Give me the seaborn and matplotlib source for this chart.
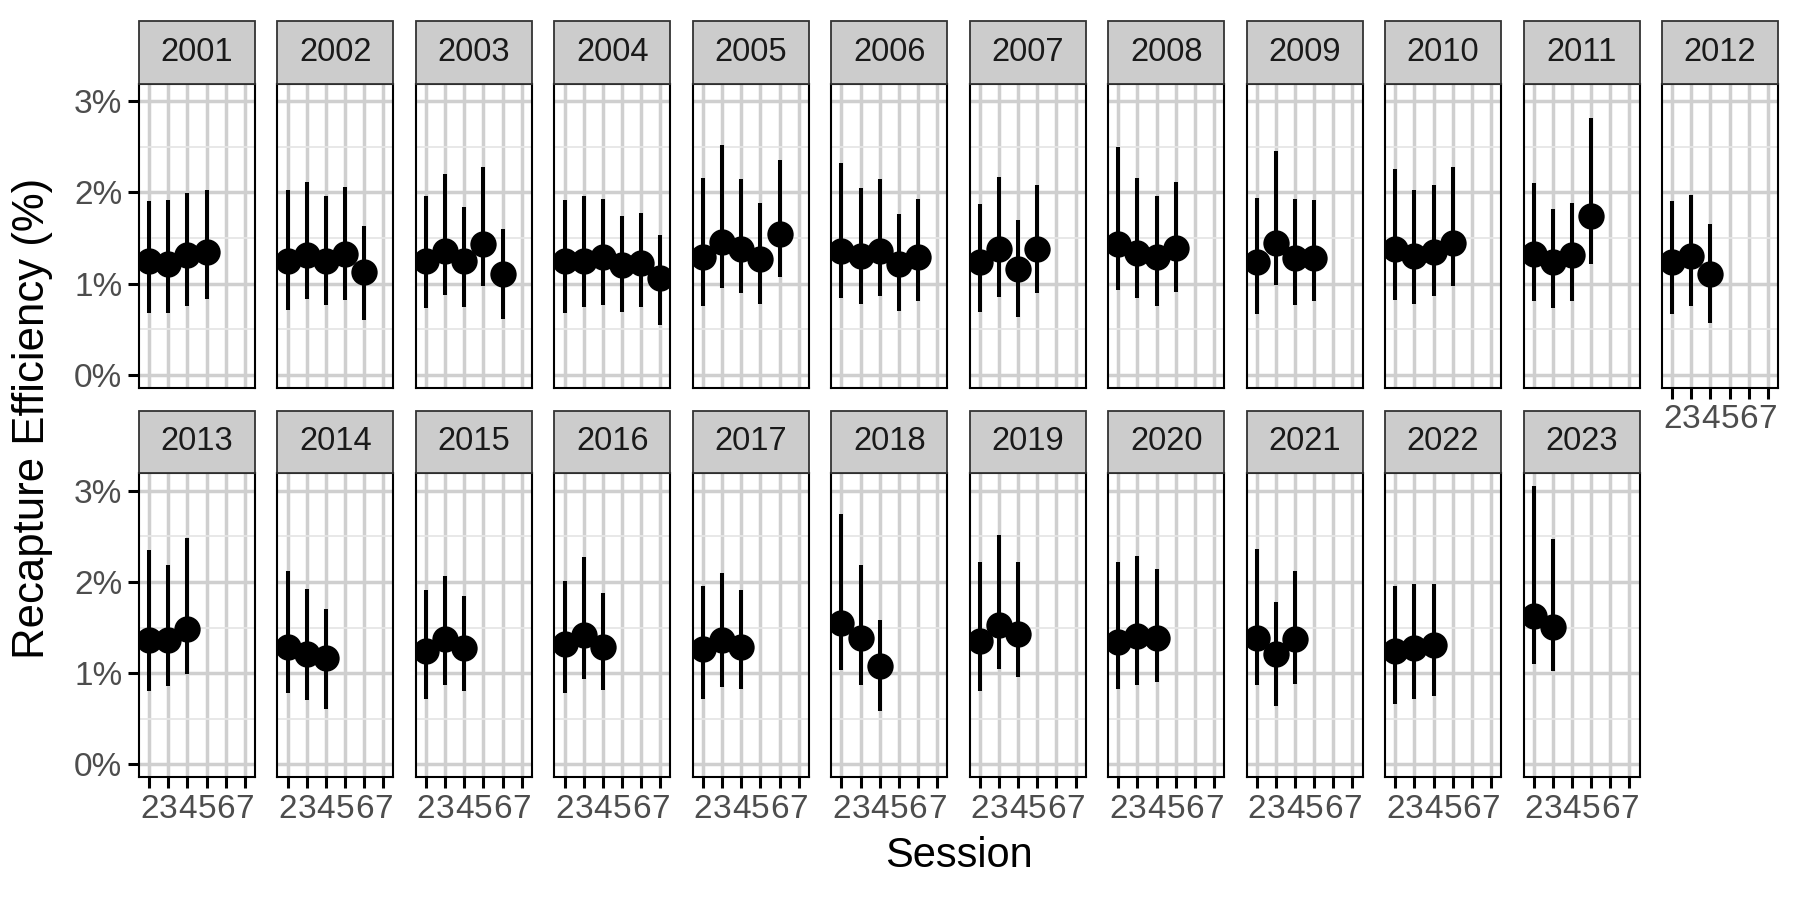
import matplotlib
matplotlib.use("Agg")
import matplotlib.pyplot as plt
from matplotlib.patches import Rectangle
from matplotlib.ticker import FixedLocator, FuncFormatter
import seaborn as sns
import pandas as pd

# recapture efficiency (%) per year, sessions start at 2
years = list(range(2001, 2024))
estimate = [
    [1.25, 1.22, 1.31, 1.35],
    [1.25, 1.31, 1.25, 1.33, 1.13],
    [1.25, 1.36, 1.25, 1.43, 1.11],
    [1.25, 1.25, 1.29, 1.20, 1.23, 1.06],
    [1.29, 1.46, 1.38, 1.27, 1.54],
    [1.36, 1.30, 1.36, 1.21, 1.29],
    [1.24, 1.38, 1.16, 1.38],
    [1.43, 1.34, 1.29, 1.39],
    [1.24, 1.45, 1.28, 1.28],
    [1.38, 1.30, 1.35, 1.45],
    [1.33, 1.24, 1.31, 1.74],
    [1.24, 1.30, 1.11],
    [1.36, 1.36, 1.48],
    [1.29, 1.21, 1.16],
    [1.24, 1.37, 1.27],
    [1.32, 1.42, 1.29],
    [1.26, 1.36, 1.29],
    [1.55, 1.38, 1.08],
    [1.35, 1.53, 1.43],
    [1.34, 1.41, 1.38],
    [1.39, 1.21, 1.37],
    [1.24, 1.28, 1.31],
    [1.63, 1.51],
]
lower = [
    [0.68, 0.68, 0.76, 0.83],
    [0.71, 0.83, 0.77, 0.82, 0.60],
    [0.73, 0.87, 0.74, 0.97, 0.61],
    [0.68, 0.74, 0.77, 0.69, 0.74, 0.55],
    [0.76, 0.95, 0.90, 0.78, 1.07],
    [0.84, 0.78, 0.86, 0.70, 0.81],
    [0.69, 0.85, 0.63, 0.90],
    [0.93, 0.84, 0.76, 0.91],
    [0.67, 0.98, 0.77, 0.81],
    [0.82, 0.78, 0.86, 0.97],
    [0.81, 0.73, 0.81, 1.21],
    [0.67, 0.76, 0.57],
    [0.80, 0.86, 0.99],
    [0.78, 0.70, 0.61],
    [0.72, 0.87, 0.80],
    [0.78, 0.93, 0.81],
    [0.72, 0.85, 0.83],
    [1.03, 0.87, 0.58],
    [0.80, 1.04, 0.96],
    [0.82, 0.87, 0.90],
    [0.87, 0.64, 0.88],
    [0.66, 0.72, 0.75],
    [1.10, 1.02],
]
upper = [
    [1.91, 1.92, 1.99, 2.03],
    [2.03, 2.11, 1.96, 2.06, 1.63],
    [1.96, 2.20, 1.84, 2.28, 1.60],
    [1.92, 1.96, 1.93, 1.74, 1.77, 1.53],
    [2.16, 2.52, 2.15, 1.89, 2.36],
    [2.32, 2.05, 2.15, 1.76, 1.93],
    [1.87, 2.17, 1.70, 2.08],
    [2.50, 2.16, 1.96, 2.12],
    [1.94, 2.46, 1.93, 1.92],
    [2.26, 2.03, 2.08, 2.28],
    [2.10, 1.82, 1.89, 2.82],
    [1.91, 1.97, 1.65],
    [2.35, 2.19, 2.48],
    [2.12, 1.92, 1.70],
    [1.91, 2.07, 1.85],
    [2.01, 2.27, 1.88],
    [1.95, 2.10, 1.91],
    [2.74, 2.19, 1.58],
    [2.22, 2.51, 2.22],
    [2.22, 2.28, 2.14],
    [2.36, 1.78, 2.12],
    [1.96, 1.98, 1.98],
    [3.05, 2.47],
]
session_ticks = [2, 3, 4, 5, 6, 7]

rows = []
for yr, est, lo, hi in zip(years, estimate, lower, upper):
    for k in range(len(est)):
        rows.append({"Year": yr, "Session": k + 2, "Estimate": est[k],
                     "Lower": lo[k], "Upper": hi[k]})
df = pd.DataFrame(rows)

sns.set_theme(style="white")
plt.rcParams["font.family"] = ["Liberation Sans", "DejaVu Sans"]

g = sns.FacetGrid(df, col="Year", col_wrap=12, sharex=True, sharey=True,
                  despine=False, height=3, aspect=0.4)


def draw(data, **kws):
    ax = plt.gca()
    ax.vlines(data["Session"], data["Lower"], data["Upper"], color="black",
              lw=2.9, zorder=3)
    sns.scatterplot(data=data, x="Session", y="Estimate", color="black",
                    s=360, linewidth=0, ax=ax, zorder=4)


g.map_dataframe(draw)
g.set_titles("")
g.set_axis_labels("", "")

fig = g.figure
fig.set_size_inches(18, 9)
fig.subplots_adjust(left=139 / 1800, right=1778 / 1800, top=1 - 84 / 900,
                    bottom=1 - 777 / 900, wspace=0.1935, hspace=0.283)

for i, ax in enumerate(g.axes.flat):
    col, row = i % 12, i // 12
    ax.set_xlim(1.47, 7.53)
    ax.set_ylim(-0.14, 3.19)
    ax.set_xticks(session_ticks)
    ax.set_yticks([0, 1, 2, 3])
    ax.yaxis.set_minor_locator(FixedLocator([0.5, 1.5, 2.5]))
    ax.yaxis.set_major_formatter(FuncFormatter(lambda v, p: f"{v:.0f}%"))
    ax.set_axisbelow(True)
    ax.grid(True, which="major", color="#cfcfcf", lw=2.5)
    ax.grid(True, which="minor", axis="y", color="#e6e6e6", lw=1.3)
    for s in ax.spines.values():
        s.set_color("black")
        s.set_linewidth(1.5)
    is_left = col == 0
    is_bottom = row == 1 or i == 11
    ax.tick_params(axis="y", which="major", left=is_left, labelleft=is_left,
                   length=8, width=2.2, color="black", labelsize=24,
                   labelcolor="#4d4d4d", pad=4)
    ax.tick_params(axis="y", which="minor", left=False, length=0)
    ax.tick_params(axis="x", which="major", bottom=is_bottom,
                   labelbottom=is_bottom, length=8, width=2.2, color="black",
                   labelsize=24, labelcolor="#4d4d4d", pad=4)
    if is_left:
        plt.setp(ax.get_yticklabels(), visible=True)
    if is_bottom:
        plt.setp(ax.get_xticklabels(), visible=True)
    ax.set_xlabel("")
    ax.set_ylabel("")
    # facet strip
    strip_h = 63 / 304
    ax.add_patch(Rectangle((0, 1), 1, strip_h, transform=ax.transAxes,
                           facecolor="#cccccc", edgecolor="#333333", lw=1.3,
                           clip_on=False, zorder=5))
    ax.text(0.5, 1 + strip_h / 2, str(years[i]), transform=ax.transAxes,
            ha="center", va="center", fontsize=23.5, color="#1a1a1a", zorder=6)

fig.text(959 / 1800, 1 - 856 / 900, "Session", ha="center", va="center",
         fontsize=30, color="black")
fig.text(33 / 1800, 1 - 418 / 900, "Recapture Efficiency (%)", rotation=90,
         ha="center", va="center", fontsize=31.5, color="black")

fig.savefig("out.png", dpi=100)
